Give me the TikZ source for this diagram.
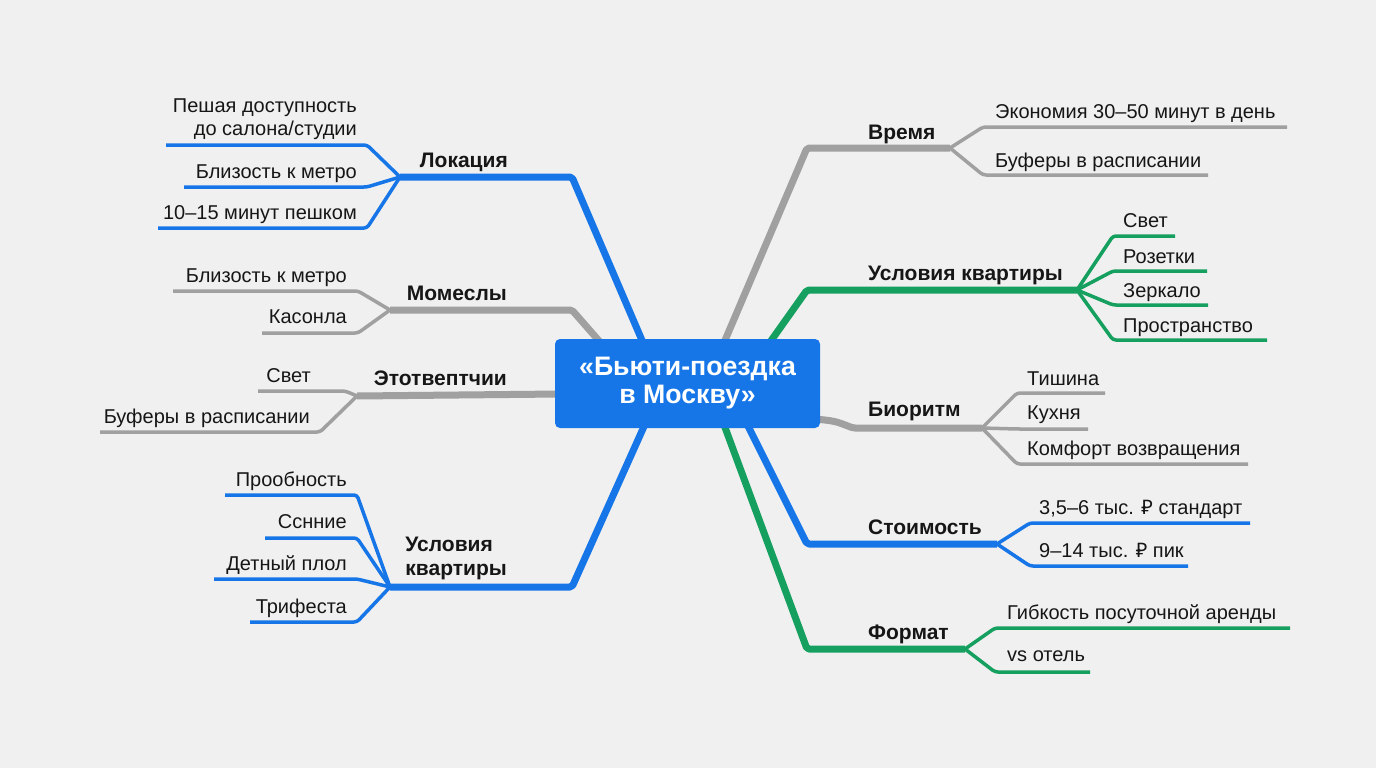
\documentclass[tikz,border=0pt]{standalone}
\usepackage{fontspec}
\setmainfont{Liberation Sans}
\newfontfamily\rubfont{Noto Sans}
\definecolor{bg}{RGB}{240,240,240}
\definecolor{ink}{RGB}{22,22,22}
\definecolor{cblue}{RGB}{22,118,232}
\definecolor{cgray}{RGB}{160,160,160}
\definecolor{cgreen}{RGB}{22,160,96}
\tikzset{
  subtxt/.style={font=\fontsize{20}{23}\selectfont, text=ink, inner sep=0pt},
  lbltxt/.style={font=\fontsize{21}{24}\selectfont\bfseries, text=ink, inner sep=0pt},
  trunk/.style={line width=7pt, line join=round, rounded corners=2pt},
  twig/.style={line width=3.5pt, line join=round, rounded corners=3pt},
  centerbox/.style={fill=cblue, rounded corners=5pt, minimum width=265pt, minimum height=89pt,
    text=white, font=\fontsize{26.7}{28}\selectfont\bfseries, align=center, inner sep=0pt},
}
\begin{document}
\begin{tikzpicture}[x=1pt,y=-1pt]
\fill[bg] (0,0) rectangle (1376,768);
\useasboundingbox (0,0) rectangle (1376,768);

% ---------- coordinates: trunks ----------
\coordinate (t1a) at (644,345); \coordinate (t1b) at (572,177); \coordinate (hL) at (400,177);
\coordinate (t2a) at (600,342); \coordinate (t2b) at (572,310); \coordinate (hM) at (390,310);
\coordinate (t3a) at (560,394); \coordinate (hE) at (357,396);
\coordinate (t4a) at (646,422); \coordinate (t4b) at (572,587); \coordinate (hU) at (390,587);
\coordinate (t5a) at (723,345); \coordinate (t5b) at (807,148); \coordinate (hV) at (950,148);
\coordinate (t6a) at (768,345); \coordinate (t6b) at (807,290); \coordinate (hG) at (1077,290);
\coordinate (t7a) at (815,419); \coordinate (t7b) at (853,428); \coordinate (hB) at (982,428);
\coordinate (t8a) at (746,422); \coordinate (t8b) at (807,544); \coordinate (hS) at (997,544);
\coordinate (t9a) at (723,422); \coordinate (t9b) at (807,649); \coordinate (hF) at (965,649);

% ---------- trunks ----------
\draw[trunk, cblue] (t1a) -- (t1b) -- (hL);
\draw[trunk, cgray] (t2a) -- (t2b) -- (hM);
\draw[trunk, cgray] (t3a) -- (hE);
\draw[trunk, cblue] (t4a) -- (t4b) -- (hU);
\draw[trunk, cgray] (t5a) -- (t5b) -- (hV);
\draw[trunk, cgreen] (t6a) -- (t6b) -- (hG);
\draw[trunk, cgray] (t7a) .. controls (835,421) .. (t7b) -- (hB);
\draw[trunk, cblue] (t8a) -- (t8b) -- (hS);
\draw[trunk, cgreen] (t9a) -- (t9b) -- (hF);

% ---------- center ----------
\node[centerbox] (c) at (687.5,383.5) {«Бьюти-поездка\\в Москву»};

% ---------- left: Локация ----------
\node[lbltxt, anchor=base east] (lL) at (508,167) {Локация};
\coordinate (a1) at (367,145); \coordinate (e1) at (166,145);
\coordinate (a2) at (367,187); \coordinate (e2) at (184,187);
\coordinate (a3) at (367,228); \coordinate (e3) at (158,228);
\draw[twig, cblue] (hL) -- (a1) -- (e1);
\draw[twig, cblue] (hL) -- (a2) -- (e2);
\draw[twig, cblue] (hL) -- (a3) -- (e3);
\node[subtxt, anchor=north east, align=right] (s11) at (357,99) {Пешая доступность\\до салона/студии};
\node[subtxt, anchor=base east] (s12) at (357,178) {Близость к метро};
\node[subtxt, anchor=base east] (s13) at (357,219) {10–15 минут пешком};

% ---------- left: Момеслы ----------
\node[lbltxt, anchor=base east] (lM) at (507,300) {Момеслы};
\coordinate (b1) at (358,291); \coordinate (f1) at (173,291);
\coordinate (b2) at (358,333); \coordinate (f2) at (262,333);
\draw[twig, cgray] (hM) -- (b1) -- (f1);
\draw[twig, cgray] (hM) -- (b2) -- (f2);
\node[subtxt, anchor=base east] (s21) at (347,282) {Близость к метро};
\node[subtxt, anchor=base east] (s22) at (347,323) {Касонла};

% ---------- left: Этотвептчии ----------
\node[lbltxt, anchor=base east] (lE) at (507,385) {Этотвептчии};
\coordinate (g1) at (345,391); \coordinate (k1) at (258,391);
\coordinate (g2) at (320,432); \coordinate (k2) at (100,432);
\draw[twig, cgray] (hE) .. controls (350,393) .. (g1) -- (k1);
\draw[twig, cgray] (hE) -- (g2) -- (k2);
\node[subtxt, anchor=base east] (s31) at (311,382) {Свет};
\node[subtxt, anchor=base east] (s32) at (310,423) {Буферы в расписании};

% ---------- left: Условия квартиры ----------
\node[lbltxt, anchor=north east, align=left] (lU) at (507,537) {Условия\\квартиры};
\coordinate (m1) at (357,495); \coordinate (n1) at (225,495);
\coordinate (m2) at (357,538); \coordinate (n2) at (265,538);
\coordinate (m3) at (357,579); \coordinate (n3) at (214,579);
\coordinate (m4) at (357,622); \coordinate (n4) at (250,622);
\draw[twig, cblue] (hU) -- (m1) -- (n1);
\draw[twig, cblue] (hU) -- (m2) -- (n2);
\draw[twig, cblue] (hU) -- (m3) -- (n3);
\draw[twig, cblue] (hU) -- (m4) -- (n4);
\node[subtxt, anchor=base east] (s41) at (347,486) {Прообность};
\node[subtxt, anchor=base east] (s42) at (347,528) {Сснние};
\node[subtxt, anchor=base east] (s43) at (347,570) {Детный плол};
\node[subtxt, anchor=base east] (s44) at (347,613) {Трифеста};

% ---------- right: Время ----------
\node[lbltxt, anchor=base west] (lV) at (868,139) {Время};
\coordinate (p1) at (983,127); \coordinate (q1) at (1287,127);
\coordinate (p2) at (983,175); \coordinate (q2) at (1208,175);
\draw[twig, cgray] (hV) -- (p1) -- (q1);
\draw[twig, cgray] (hV) -- (p2) -- (q2);
\node[subtxt, anchor=base west] (s51) at (995,118) {Экономия 30–50 минут в день};
\node[subtxt, anchor=base west] (s52) at (995,167) {Буферы в расписании};

% ---------- right: Условия квартиры ----------
\node[lbltxt, anchor=base west] (lG) at (868,280) {Условия квартиры};
\coordinate (r1) at (1113,236); \coordinate (u1) at (1175,236);
\coordinate (r2) at (1113,271); \coordinate (u2) at (1207,271);
\coordinate (r3) at (1113,305); \coordinate (u3) at (1208,305);
\coordinate (r4) at (1113,340); \coordinate (u4) at (1267,340);
\draw[twig, cgreen] (hG) -- (r1) -- (u1);
\draw[twig, cgreen] (hG) -- (r2) -- (u2);
\draw[twig, cgreen] (hG) -- (r3) -- (u3);
\draw[twig, cgreen] (hG) -- (r4) -- (u4);
\node[subtxt, anchor=base west] (s61) at (1123,227) {Свет};
\node[subtxt, anchor=base west] (s62) at (1123,263) {Розетки};
\node[subtxt, anchor=base west] (s63) at (1123,297) {Зеркало};
\node[subtxt, anchor=base west] (s64) at (1123,332) {Пространство};

% ---------- right: Биоритм ----------
\node[lbltxt, anchor=base west] (lB) at (868,416) {Биоритм};
\coordinate (v1) at (1017,393); \coordinate (w1) at (1105,393);
\coordinate (v2) at (1017,429); \coordinate (w2) at (1088,429);
\coordinate (v3) at (1017,464); \coordinate (w3) at (1248,464);
\draw[twig, cgray] (hB) -- (v1) -- (w1);
\draw[twig, cgray] (hB) -- (v2) -- (w2);
\draw[twig, cgray] (hB) -- (v3) -- (w3);
\node[subtxt, anchor=base west] (s71) at (1027,385) {Тишина};
\node[subtxt, anchor=base west] (s72) at (1027,419) {Кухня};
\node[subtxt, anchor=base west] (s73) at (1027,455) {Комфорт возвращения};

% ---------- right: Стоимость ----------
\node[lbltxt, anchor=base west] (lS) at (868,534) {Стоимость};
\coordinate (x1) at (1030,523); \coordinate (y1) at (1250,523);
\coordinate (x2) at (1030,566); \coordinate (y2) at (1188,566);
\draw[twig, cblue] (hS) -- (x1) -- (y1);
\draw[twig, cblue] (hS) -- (x2) -- (y2);
\node[subtxt, anchor=base west] (s81) at (1039,514) {3,5–6 тыс. {\rubfont ₽} стандарт};
\node[subtxt, anchor=base west] (s82) at (1039,557) {9–14 тыс. {\rubfont ₽} пик};

% ---------- right: Формат ----------
\node[lbltxt, anchor=base west] (lF) at (868,639) {Формат};
\coordinate (z1) at (995,628); \coordinate (o1) at (1290,628);
\coordinate (z2) at (995,672); \coordinate (o2) at (1090,672);
\draw[twig, cgreen] (hF) -- (z1) -- (o1);
\draw[twig, cgreen] (hF) -- (z2) -- (o2);
\node[subtxt, anchor=base west] (s91) at (1007,619) {Гибкость посуточной аренды};
\node[subtxt, anchor=base west] (s92) at (1007,661) {vs отель};
\end{tikzpicture}
\end{document}
